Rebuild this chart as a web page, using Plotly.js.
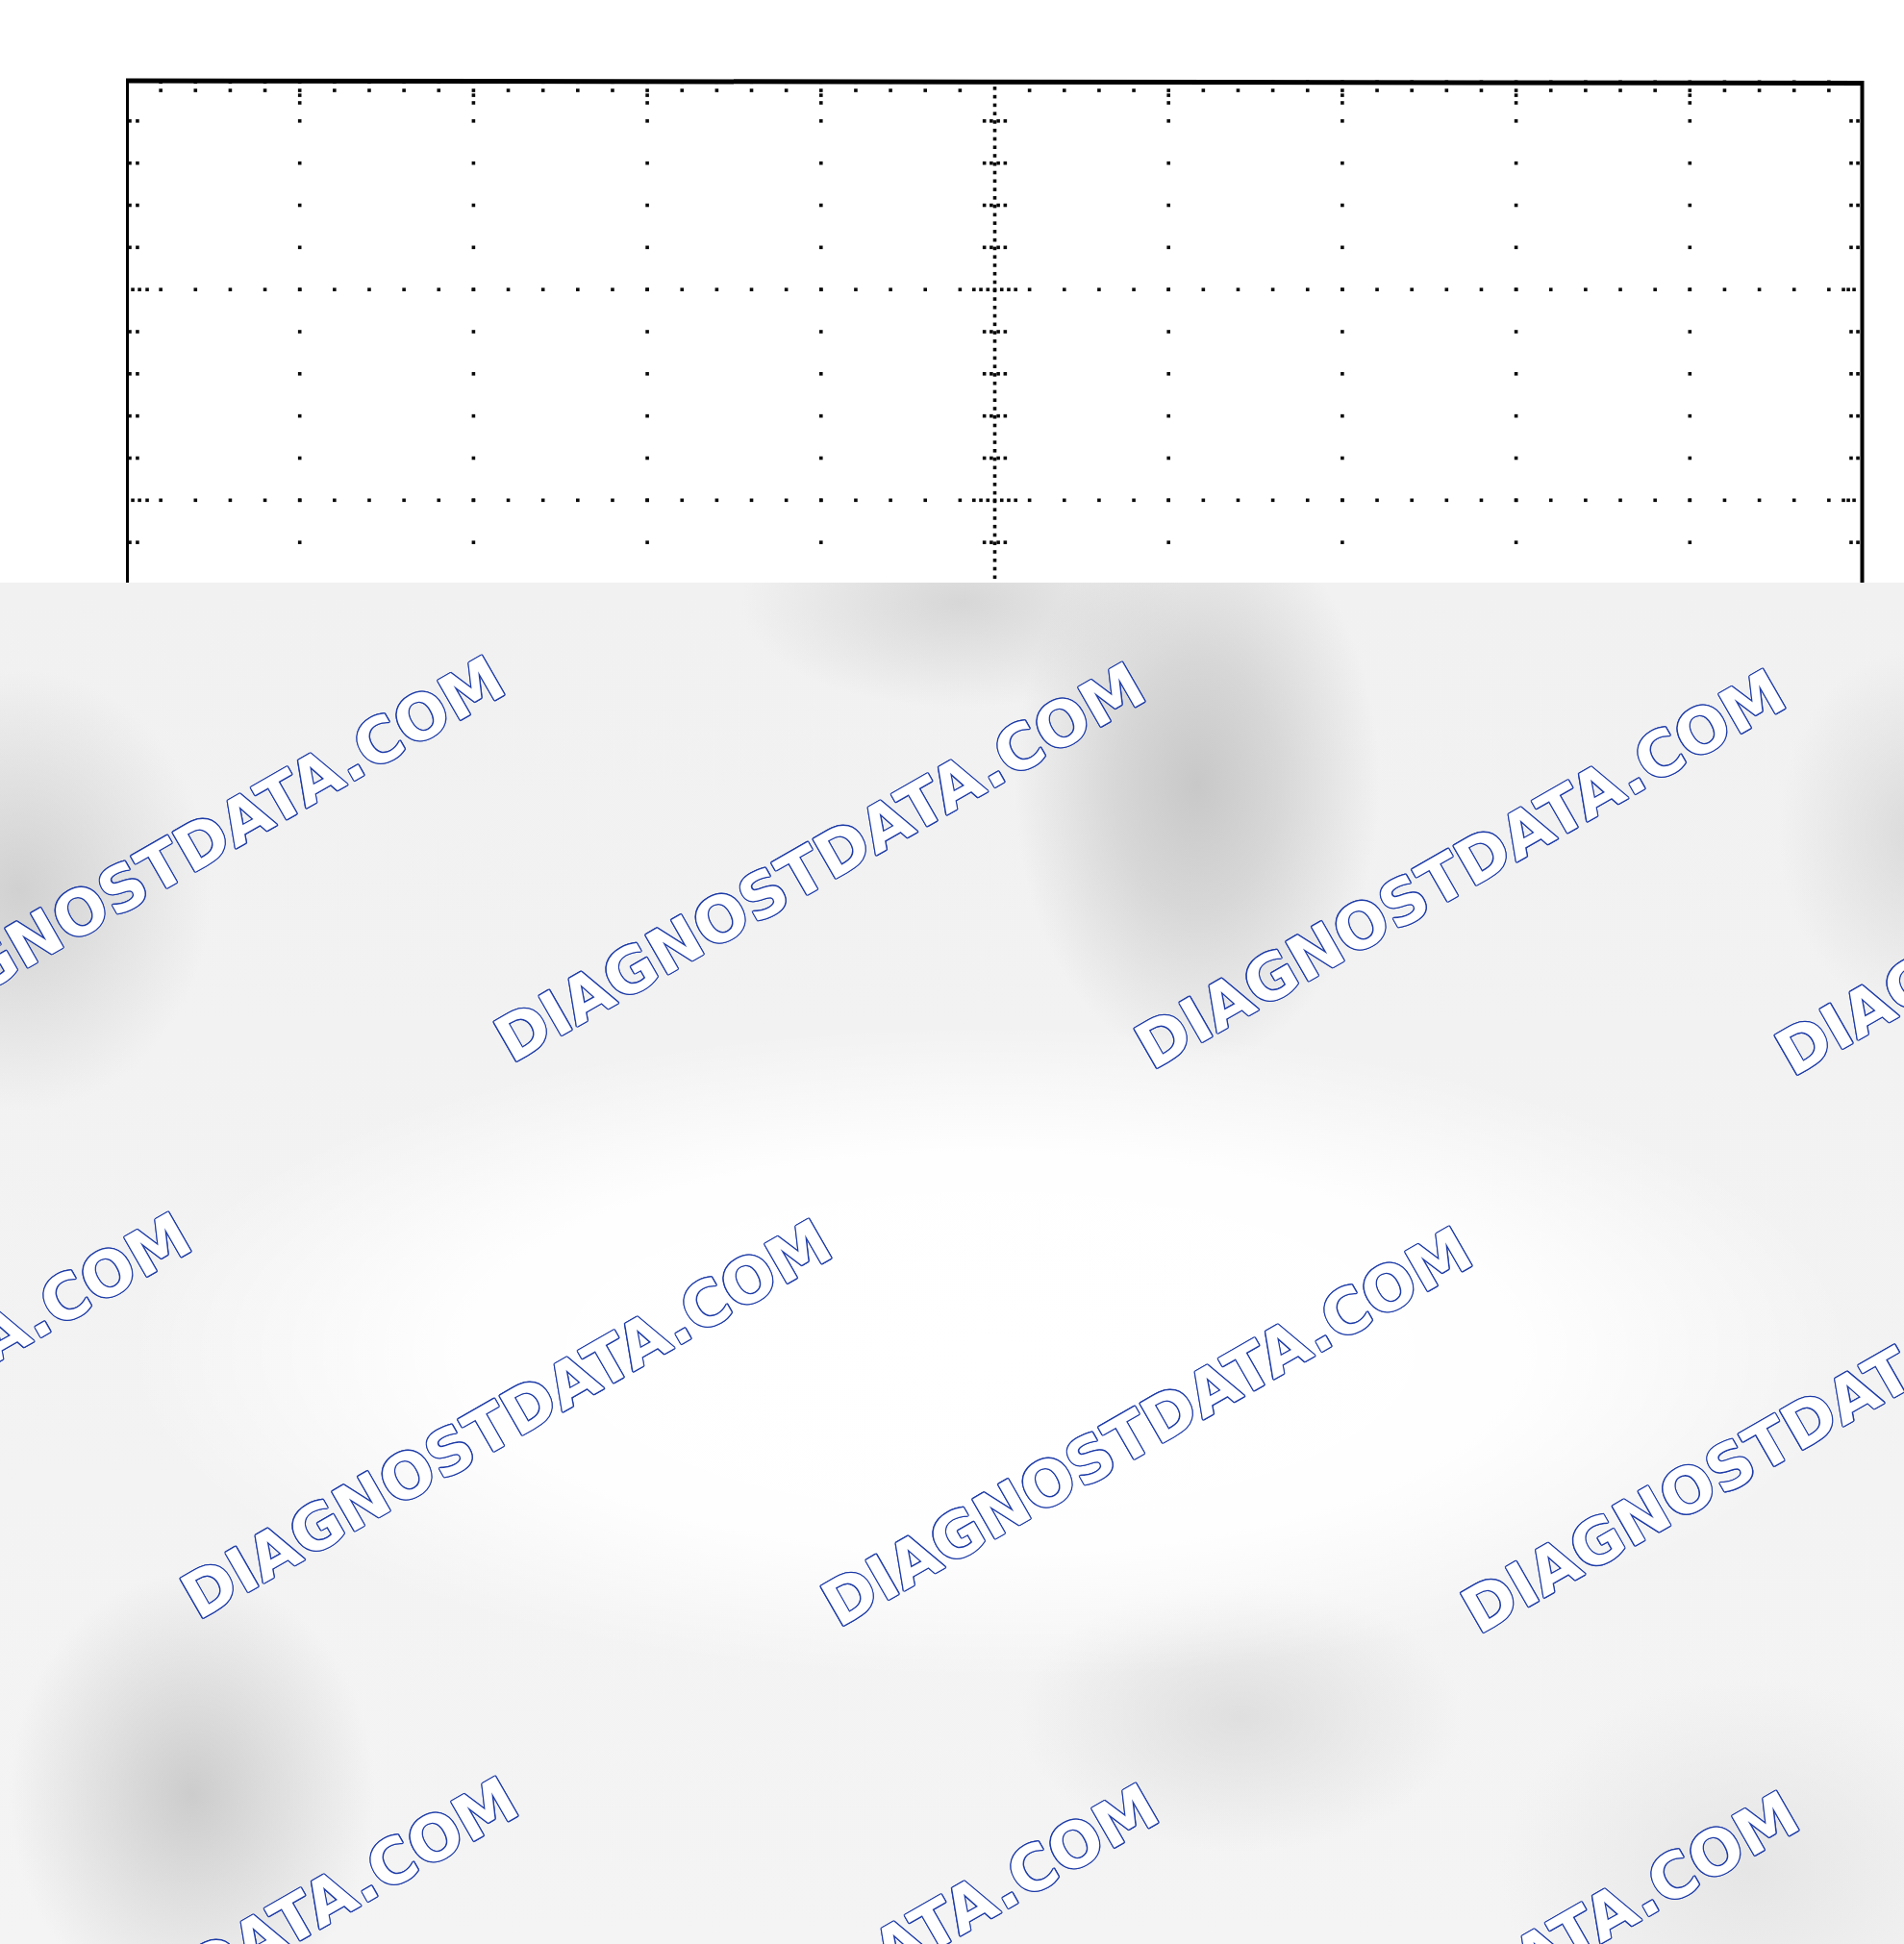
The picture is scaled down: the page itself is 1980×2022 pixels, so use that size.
<!DOCTYPE html>
<html>
<head>
<meta charset="utf-8">
<script src="https://cdn.plot.ly/plotly-3.0.1.min.js"></script>
<style>
html,body{margin:0;padding:0;background:#ffffff;}
#wrap{position:relative;width:1980px;height:2022px;overflow:hidden;background:#ffffff;}
#bg{position:absolute;left:0;top:606px;width:1980px;height:1416px;
 background:
  radial-gradient(ellipse 900px 340px at 1030px 800px, rgba(255,255,255,1) 0%, rgba(255,255,255,0.95) 60%, rgba(255,255,255,0) 100%),
  radial-gradient(ellipse 190px 290px at 1245px 210px, rgba(200,200,200,1) 0%, rgba(204,204,204,0.7) 45%, rgba(214,214,214,0) 100%),
  radial-gradient(ellipse 230px 110px at 1000px 20px, rgba(210,210,210,0.85) 0%, rgba(218,218,218,0) 100%),
  radial-gradient(ellipse 200px 230px at 20px 320px, rgba(205,205,205,0.9) 0%, rgba(218,218,218,0) 100%),
  radial-gradient(ellipse 140px 190px at 1990px 260px, rgba(215,215,215,0.85) 0%, rgba(222,222,222,0) 100%),
  radial-gradient(ellipse 190px 230px at 200px 1260px, rgba(202,202,202,0.95) 0%, rgba(216,216,216,0) 100%),
  radial-gradient(ellipse 230px 140px at 1290px 1180px, rgba(218,218,218,0.8) 0%, rgba(228,228,228,0) 100%),
  radial-gradient(ellipse 260px 200px at 1820px 1340px, rgba(226,226,226,0.8) 0%, rgba(232,232,232,0) 100%),
  linear-gradient(#f1f1f1, #f4f4f4);
}
#plot{position:absolute;left:0;top:0;width:1980px;height:2022px;}
</style>
</head>
<body>
<div id="wrap"><div id="bg"></div><div id="plot"></div></div>
<script>
// ---- graticule definition (divisions) ----
const gridX = [1, 2, 3, 4, 6, 7, 8, 9];      // dotted vertical division lines
const centerX = 5;                              // centre vertical axis (fine ticks)
const gridY = [3, 2, 1];                        // dotted horizontal division lines
const xRange = [0, 10];
const yTop = 4;
const yRange = [1.609, 4];
const minorStep = 0.2;                          // 5 minor steps per division
const fineStep = 0.04;                          // 5 fine steps per minor step
const topTickDepth = [0.015, 0.055];            // minor ticks below top edge
const topMajorDepth = [0.015, 0.055, 0.078, 0.114]; // major ticks below top edge
const edgeTickLeft = [0.022, 0.066];
const edgeTickRight = [9.928, 9.967];
const edgeDenseLeft = [0.039, 0.078, 0.122];
const edgeDenseRight = [9.945, 9.912, 9.884];
const crossTick = [-0.06, -0.02, 0.02, 0.06];
const centerDense = [-0.12, -0.08, -0.04, 0.04, 0.08, 0.12];

// ---- watermark text ----
const wmText = 'DIAGNOSTDATA.COM';
const wmX = [186, 852, 1518, 2184, -140, 526, 1192, 1858, 200, 866, 1532];
const wmY = [890, 897, 904, 911, 1469, 1476, 1484, 1492, 2056, 2063, 2071];

const near = (a, b) => Math.abs(a - b) < 1e-6;
const isMajorY = y => gridY.some(g => near(g, y)) || near(y, yTop);
const xs = [], ys = [];
function dot(x, y) { xs.push(x); ys.push(y); }

const nMinorY = Math.round((yTop - yRange[0]) / minorStep) + 1;
const minorYs = [];
for (let k = 1; k <= nMinorY; k++) minorYs.push(+(yTop - k * minorStep).toFixed(4));
const minorXs = [];
for (let k = 1; k < Math.round((xRange[1] - xRange[0]) / minorStep); k++) minorXs.push(+(k * minorStep).toFixed(4));

// vertical dotted division lines
gridX.forEach(x => {
  minorYs.forEach(y => dot(x, y));
  topMajorDepth.forEach(d => dot(x, yTop - d));
});
// top edge minor ticks
minorXs.forEach(x => {
  if (gridX.some(g => near(g, x)) || near(x, centerX)) return;
  topTickDepth.forEach(d => dot(x, yTop - d));
});
// horizontal dotted division lines
gridY.forEach(y => {
  minorXs.forEach(x => dot(x, y));
  edgeDenseLeft.forEach(x => dot(x, y));
  edgeDenseRight.forEach(x => dot(x, y));
  centerDense.forEach(o => dot(centerX + o, y));
});
// left / right edge ticks and centre cross ticks on minor rows
minorYs.forEach(y => {
  if (isMajorY(y)) return;
  edgeTickLeft.forEach(x => dot(x, y));
  edgeTickRight.forEach(x => dot(x, y));
  crossTick.forEach(o => dot(centerX + o, y));
});
// centre vertical fine dotted axis
const nFine = Math.round((yTop - yRange[0]) / fineStep) + 1;
for (let k = 1; k <= nFine; k++) dot(centerX, yTop - 0.045 - (k - 1) * fineStep);

// page pixel -> paper coordinates
const L = 131, W = 1807, T = 82, H = 524;
const px = v => (v - L) / W;
const py = v => (T + H - v) / H;

const outline = '#1f3da8';
const o = 1.3;
const shadow = [
  `${o}px 0 0 ${outline}`, `-${o}px 0 0 ${outline}`, `0 ${o}px 0 ${outline}`, `0 -${o}px 0 ${outline}`,
  `1px 1px 0 ${outline}`, `-1px -1px 0 ${outline}`, `1px -1px 0 ${outline}`, `-1px 1px 0 ${outline}`
].join(', ');

const annotations = wmX.map((x, i) => ({
  text: wmText, xref: 'paper', yref: 'paper', x: px(x), y: py(wmY[i]),
  xanchor: 'center', yanchor: 'middle', showarrow: false, textangle: -29.8,
  font: { family: 'DejaVu Sans, Verdana, sans-serif', size: 65, weight: 'bold', color: '#ffffff', shadow: shadow }
}));

const trace = {
  type: 'scatter', mode: 'markers', x: xs, y: ys, hoverinfo: 'skip', showlegend: false,
  marker: { symbol: 'square', size: 3.6, color: '#0a0a0a', line: { width: 0 } }
};

const layout = {
  width: 1980, height: 2022,
  margin: { l: L, r: 1980 - L - W, t: T, b: 2022 - T - H, pad: 0 },
  paper_bgcolor: 'rgba(0,0,0,0)', plot_bgcolor: '#ffffff',
  showlegend: false,
  xaxis: { range: xRange, showgrid: false, zeroline: false, showline: false, showticklabels: false, ticks: '', fixedrange: true },
  yaxis: { range: yRange, showgrid: false, zeroline: false, showline: false, showticklabels: false, ticks: '', fixedrange: true },
  shapes: [
    { type: 'line', xref: 'paper', yref: 'paper', x0: 0, x1: 1, y0: py(84), y1: py(86.5), line: { color: '#000', width: 5 } },
    { type: 'line', xref: 'paper', yref: 'paper', x0: px(132.5), x1: px(132.5), y0: 0, y1: py(82), line: { color: '#000', width: 3 } },
    { type: 'line', xref: 'paper', yref: 'paper', x0: px(1936.5), x1: px(1936.5), y0: 0, y1: py(84), line: { color: '#000', width: 4 } }
  ],
  annotations: annotations
};

Plotly.newPlot('plot', [trace], layout, { staticPlot: true, displayModeBar: false });
</script>
</body>
</html>
